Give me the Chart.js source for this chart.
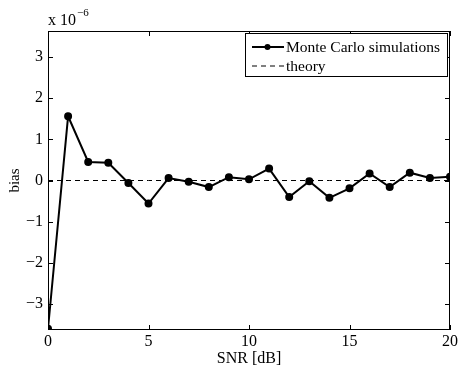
<!DOCTYPE html>
<html>
<head>
<meta charset="utf-8">
<script src="https://cdn.jsdelivr.net/npm/chart.js@4"></script>
<style>
  html, body { margin: 0; padding: 0; background: #fff; }
  #wrap { width: 460px; height: 366px; }
</style>
</head>
<body>
<div id="wrap"><canvas id="biasChart" width="460" height="366"></canvas></div>
<script>
// SNR grid in dB and the measured bias (units of 1e-6)
const snrDb = [0, 1, 2, 3, 4, 5, 6, 7, 8, 9, 10, 11, 12, 13, 14, 15, 16, 17, 18, 19, 20]
const mcBias = [-3.6, 1.56, 0.45, 0.43, -0.06, -0.56, 0.06, -0.03, -0.16, 0.08, 0.03, 0.29, -0.40, -0.02, -0.42, -0.19, 0.17, -0.16, 0.19, 0.06, 0.09]
const theoryBias = [0, 0, 0, 0, 0, 0, 0, 0, 0, 0, 0, 0, 0, 0, 0, 0, 0, 0, 0, 0, 0]
const xTicks = [0, 5, 10, 15, 20]
const yTicks = [-3, -2, -1, 0, 1, 2, 3]

const serif = '"Liberation Serif", "DejaVu Serif", serif'

// frame, inward ticks on all four sides, exponent note and legend box
const matlabFrame = {
  id: 'matlabFrame',
  afterDraw(chart) {
    const { ctx, chartArea: a, scales } = chart
    const len = 5
    ctx.save()
    ctx.strokeStyle = '#000'
    ctx.lineWidth = 1
    ctx.strokeRect(a.left + 0.5, a.top + 0.5, a.right - a.left - 1, a.bottom - a.top - 1)
    ctx.beginPath()
    xTicks.forEach((v) => {
      const px = Math.round(scales.x.getPixelForValue(v)) + 0.5
      ctx.moveTo(px, a.bottom); ctx.lineTo(px, a.bottom - len)
      ctx.moveTo(px, a.top); ctx.lineTo(px, a.top + len)
    })
    yTicks.forEach((v) => {
      const py = Math.round(scales.y.getPixelForValue(v)) + 0.5
      ctx.moveTo(a.left, py); ctx.lineTo(a.left + len, py)
      ctx.moveTo(a.right, py); ctx.lineTo(a.right - len, py)
    })
    ctx.stroke()

    // exponent note
    ctx.fillStyle = '#000'
    ctx.textBaseline = 'alphabetic'
    ctx.textAlign = 'left'
    ctx.font = '16px ' + serif
    ctx.fillText('x 10', a.left, 25)
    const w = ctx.measureText('x 10').width
    ctx.font = '11px ' + serif
    ctx.fillText('\u22126', a.left + w + 1, 16)

    // legend
    const bx = 245, by = 33, bw = 202, bh = 43
    ctx.fillStyle = '#fff'
    ctx.fillRect(bx, by, bw, bh)
    ctx.strokeStyle = '#000'
    ctx.lineWidth = 1
    ctx.strokeRect(bx + 0.5, by + 0.5, bw, bh)
    const items = chart.data.datasets
    items.forEach((ds, i) => {
      const ly = by + 14 + i * 19
      ctx.beginPath()
      ctx.lineWidth = ds.borderWidth
      ctx.setLineDash(ds.borderDash || [])
      ctx.moveTo(bx + 7, ly)
      ctx.lineTo(bx + 39, ly)
      ctx.stroke()
      ctx.setLineDash([])
      if (ds.pointRadius > 0) {
        ctx.beginPath()
        ctx.arc(bx + 22.5, ly, ds.pointRadius, 0, Math.PI * 2)
        ctx.fillStyle = '#000'
        ctx.fill()
      }
      ctx.fillStyle = '#000'
      ctx.font = '15.5px ' + serif
      ctx.textBaseline = 'middle'
      ctx.fillText(ds.label, bx + 41, ly + 1)
    })
    ctx.restore()
  }
}

new Chart(document.getElementById('biasChart'), {
  type: 'line',
  data: {
    datasets: [{
      label: 'Monte Carlo simulations',
      data: snrDb.map((x, i) => ({ x, y: mcBias[i] })),
      borderColor: '#000',
      backgroundColor: '#000',
      borderWidth: 2,
      pointRadius: 3,
      pointBackgroundColor: '#000',
      tension: 0
    }, {
      label: 'theory',
      data: snrDb.map((x, i) => ({ x, y: theoryBias[i] })),
      borderColor: '#000',
      borderWidth: 1,
      borderDash: [5, 4],
      pointRadius: 0,
      tension: 0
    }]
  },
  options: {
    responsive: false,
    animation: false,
    layout: { padding: { left: 0, right: 8, top: 31, bottom: 0 } },
    plugins: { legend: { display: false }, tooltip: { enabled: false } },
    scales: {
      x: {
        type: 'linear',
        min: 0,
        max: 20,
        afterFit: (s) => { s.height = 36 },
        afterBuildTicks: (s) => { s.ticks = xTicks.map((v) => ({ value: v })) },
        grid: { display: false, drawTicks: false },
        border: { display: false },
        ticks: { color: '#000', padding: 2, font: { family: serif, size: 16 }, maxRotation: 0 },
        title: { display: true, text: 'SNR [dB]', color: '#000', padding: { top: 0, bottom: -2 }, font: { family: serif, size: 16 } }
      },
      y: {
        min: -3.63,
        max: 3.63,
        afterFit: (s) => { s.width = 48 },
        afterBuildTicks: (s) => { s.ticks = yTicks.map((v) => ({ value: v })) },
        grid: { display: false, drawTicks: false },
        border: { display: false },
        ticks: {
          color: '#000',
          padding: 5,
          font: { family: serif, size: 16 },
          callback: (v) => (v < 0 ? '\u2212' + Math.abs(v) : String(v))
        },
        title: { display: true, text: 'bias', color: '#000', padding: { top: 6, bottom: 0 }, font: { family: serif, size: 15 } }
      }
    }
  },
  plugins: [matlabFrame]
})
</script>
</body>
</html>
